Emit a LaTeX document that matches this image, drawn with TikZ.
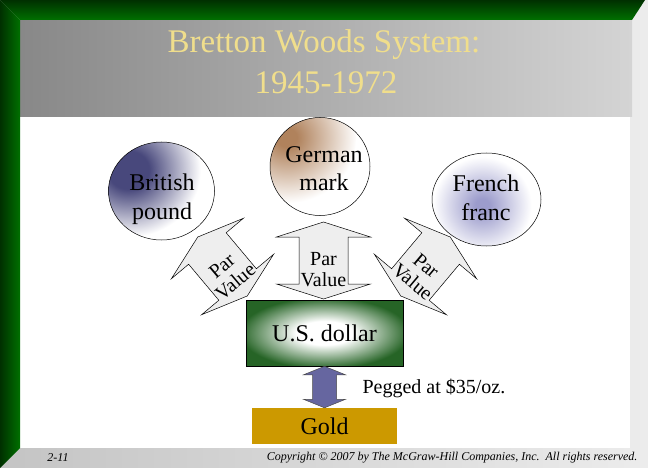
\documentclass[tikz,border=0pt]{standalone}
\usepackage{fontspec}
\setmainfont{Liberation Serif}
\usetikzlibrary{shapes.geometric}

\definecolor{frameDark}{RGB}{0,48,0}
\definecolor{frameLight}{RGB}{0,112,0}
\definecolor{barL}{RGB}{196,196,196}
\definecolor{barR}{RGB}{236,236,236}
\definecolor{titleL}{RGB}{136,136,136}
\definecolor{titleR}{RGB}{212,212,212}
\definecolor{titleText}{RGB}{240,222,140}
\definecolor{poundCol}{RGB}{72,72,124}
\definecolor{markCol}{RGB}{176,130,92}
\definecolor{francCol}{RGB}{156,156,204}
\definecolor{usdGreen}{RGB}{38,100,38}
\definecolor{pegCol}{RGB}{102,102,160}
\definecolor{goldCol}{RGB}{204,153,0}
\definecolor{pvFill}{RGB}{238,238,238}

\pgfdeclareradialshading{usdshade}{\pgfpoint{0bp}{0bp}}{color(0bp)=(white); color(9bp)=(white); color(27bp)=(usdGreen); color(50bp)=(usdGreen)}
\pgfdeclareradialshading{poundshade}{\pgfpoint{0bp}{0bp}}{color(0bp)=(poundCol); color(6bp)=(poundCol); color(21bp)=(white); color(50bp)=(white)}
\pgfdeclareradialshading{markshade}{\pgfpoint{0bp}{0bp}}{color(0bp)=(markCol); color(3bp)=(markCol); color(21bp)=(white); color(50bp)=(white)}
\pgfdeclareradialshading{francshade}{\pgfpoint{0bp}{0bp}}{color(0bp)=(francCol); color(3bp)=(francCol); color(21bp)=(white); color(50bp)=(white)}

\begin{document}
\begin{tikzpicture}[x=1pt,y=-1pt,
  cur/.style={ellipse, draw, line width=0.5pt, inner sep=0pt},
  curtxt/.style={align=center, font=\fontsize{24}{28.5}\selectfont},
  pvtxt/.style={align=center, font=\fontsize{20}{21}\selectfont, transform shape},
  pvarrow/.style={draw, fill=pvFill, line width=0.5pt, line join=miter}]

\useasboundingbox (0,0) rectangle (648,468);

% frame and title band
\shade [left color=barL, right color=barR] (0,0) rectangle (648,468);
\shade [left color=titleL, right color=titleR] (20,20) rectangle (632,117);
\fill [white] (20,117) rectangle (630,448);
\shade [left color=frameDark, right color=frameLight] (0,0) -- (20,20) -- (20,448) -- (0,468) -- cycle;
\shade [top color=frameDark, bottom color=frameLight] (0,0) -- (645,0) -- (632,20) -- (20,20) -- cycle;

% title
\node [anchor=base, text=titleText, font=\fontsize{33}{40}\selectfont] (title1) at (324,53) {Bretton Woods System:};
\node [anchor=base, text=titleText, font=\fontsize{33}{40}\selectfont] (title2) at (326,94) {1945-1972};

% currencies
\node [cur, minimum width=106pt, minimum height=98pt, fill=white,
  path picture={\shade [shading=poundshade] ([xshift=14pt,yshift=-28pt]path picture bounding box.north west) circle (80pt);}] (gbp) at (161.5,191) {};
\node [curtxt] (gbpTxt) at (162,199) {British\\pound};

\node [cur, minimum width=100pt, minimum height=98pt, fill=white,
  path picture={\shade [shading=markshade] ([xshift=10pt,yshift=-18pt]path picture bounding box.north west) circle (76pt);}] (dem) at (320,166.5) {};
\node [curtxt] (demTxt) at (324,168.5) {German\\mark};

\node [cur, minimum width=109pt, minimum height=93pt, fill=white,
  path picture={\shade [shading=francshade] ([xshift=-5pt,yshift=-6pt]path picture bounding box.center) circle (58pt);}] (frf) at (486.5,199.5) {};
\node [curtxt] (frfTxt) at (486,198) {French\\franc};

% par value arrows
\foreach \cx/\cy/\ang/\nm in {222.5/266.5/40/pvL, 323.5/260.5/0/pvM, 425.5/266.5/-40/pvR}{
  \begin{scope}[shift={(\cx,\cy)}, rotate=\ang]
    \draw [pvarrow] (0,-38.5) -- (47,-23.5) -- (24.5,-23.5) -- (24.5,23.5) -- (47,23.5) -- (0,38.5)
      -- (-47,23.5) -- (-24.5,23.5) -- (-24.5,-23.5) -- (-47,-23.5) -- cycle;
    \node [pvtxt] (\nm) at (0,9.5) {Par\\Value};
  \end{scope}
}

% dollar and gold
\node [draw, line width=0.6pt, minimum width=157pt, minimum height=66pt, shading=usdshade,
  font=\fontsize{24}{28}\selectfont] (usd) at (324.5,333) {U.S. dollar};
\node [fill=goldCol, minimum width=145pt, minimum height=36pt, inner sep=0pt,
  font=\fontsize{24}{28}\selectfont] (gold) at (324.5,426) {Gold};

\draw [fill=pegCol, draw=black!70, line width=0.5pt, line join=miter]
  (usd.south) -- ++(21,8.5) -- ++(-9,0) -- ++(0,24.5) -- ++(9,0) -- (gold.north)
  -- ++(-21,-8.5) -- ++(9,0) -- ++(0,-24.5) -- ++(-9,0) -- cycle;

\node [anchor=west, font=\fontsize{20}{24}\selectfont] (peg) at (359,388) {Pegged at \$35/oz.};

% footer
\node [font=\fontsize{12}{14}\itshape] (slide) at (58,458) {2-11};
\node [anchor=east, font=\fontsize{12}{14}\itshape] (copy) at (641,458) {Copyright © 2007 by The McGraw-Hill Companies, Inc.\ \ All rights reserved.};

\end{tikzpicture}
\end{document}
